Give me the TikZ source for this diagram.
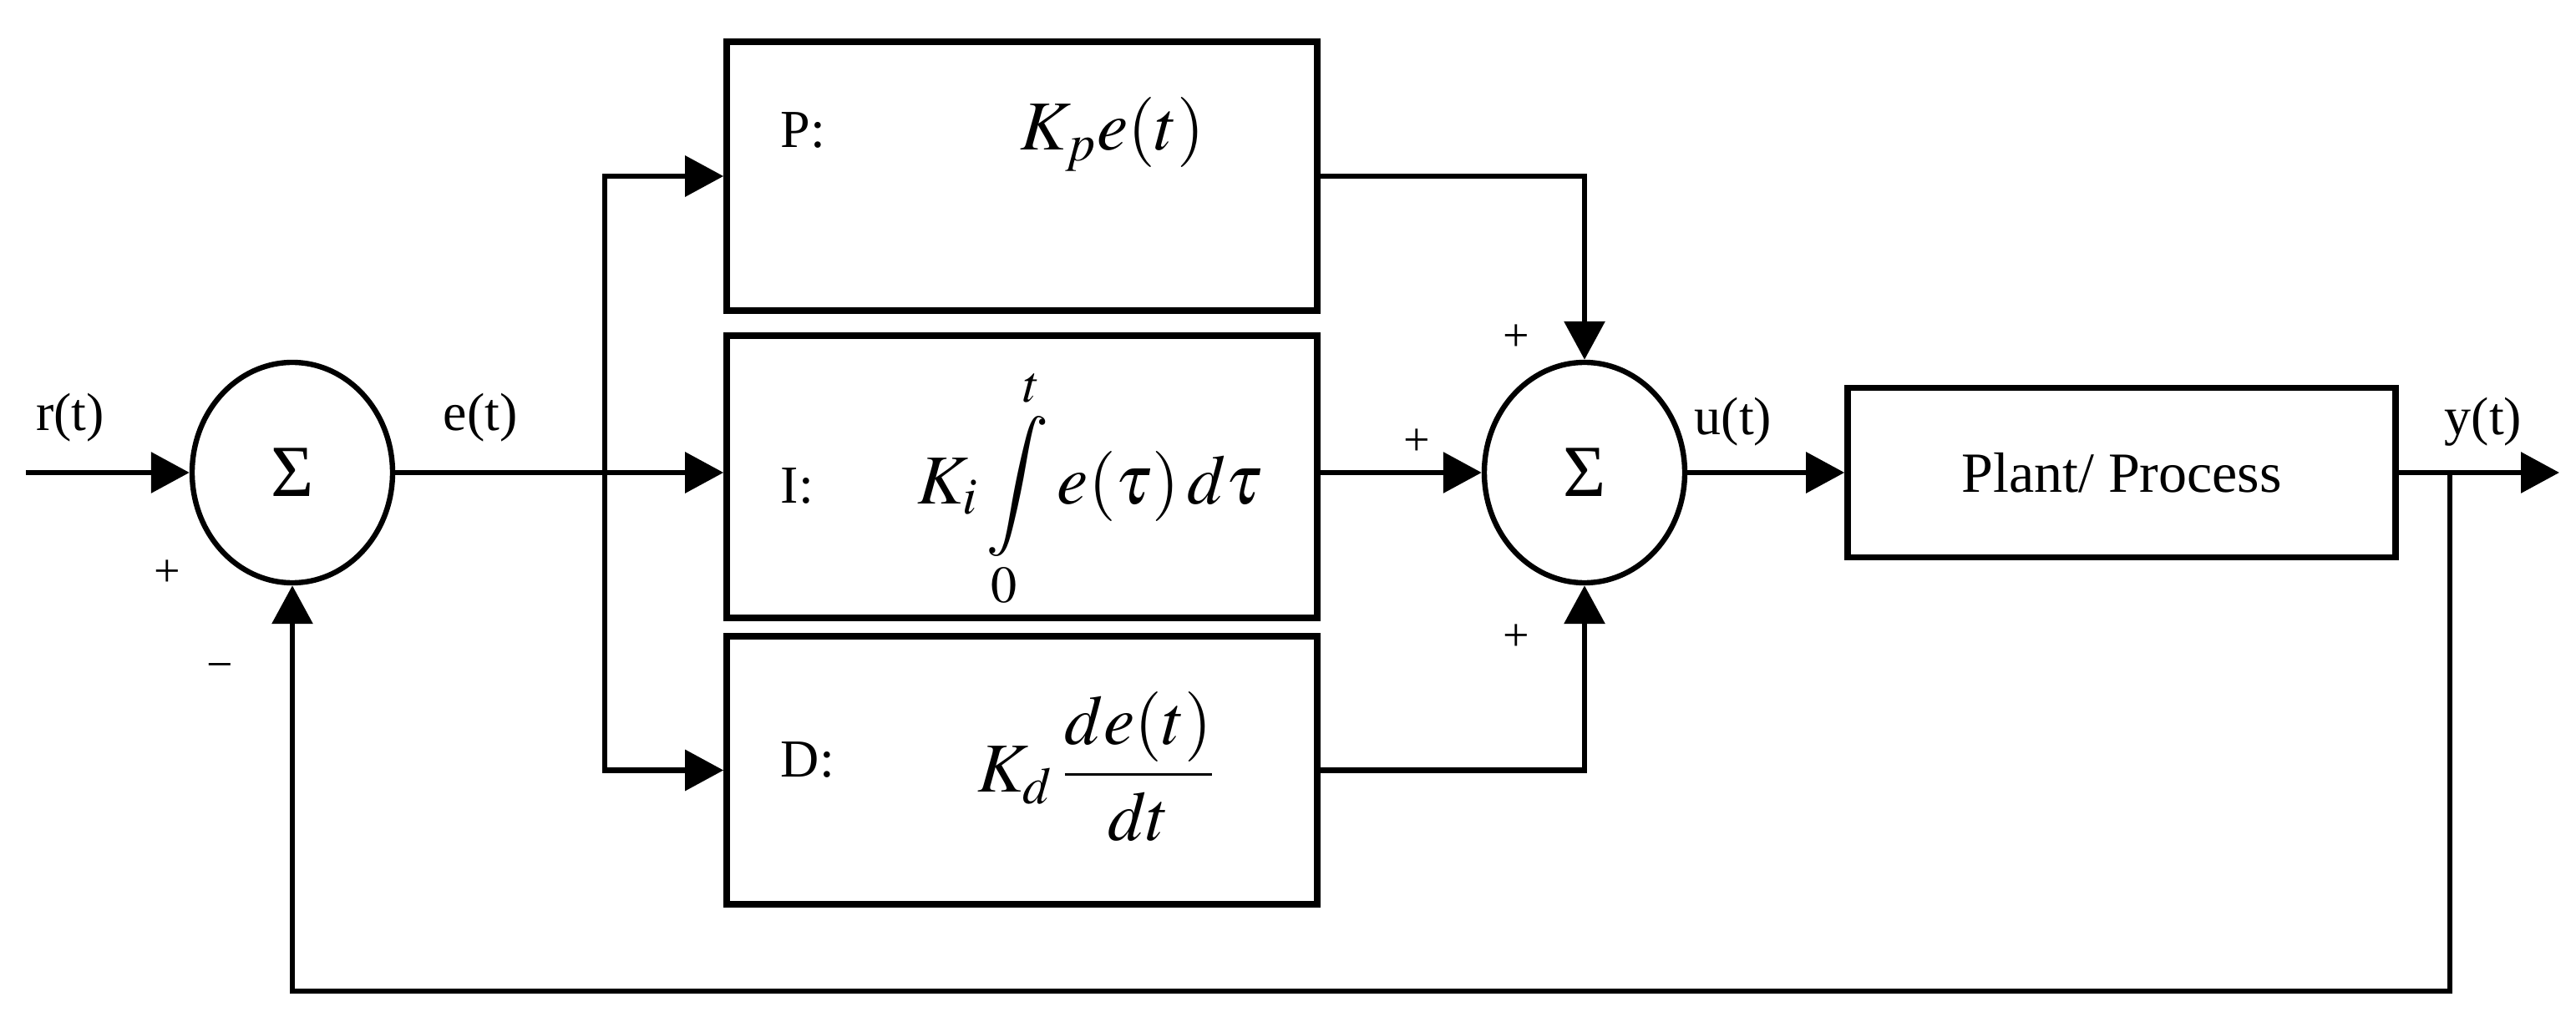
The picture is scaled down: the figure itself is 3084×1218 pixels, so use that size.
\documentclass[tikz,border=0pt]{standalone}
\usepackage{mathptmx}
\usepackage{fontspec}
\setmainfont{Liberation Serif}
\usetikzlibrary{arrows.meta,shapes.geometric}
\begin{document}
\begin{tikzpicture}[x=0.25pt,y=-0.25pt,
  line/.style={line width=1.6pt},
  arr/.style={line width=1.6pt,-{Triangle[length=11.5pt,width=12pt]}},
  blk/.style={draw,line width=1.9pt,minimum width=176.75pt,inner sep=0},
  sumnode/.style={draw,ellipse,line width=1.6pt,minimum width=60pt,minimum height=66pt,inner sep=0,font=\fontsize{22}{26}\selectfont},
  lbl/.style={font=\fontsize{16}{19}\selectfont,inner sep=0},
  sgn/.style={font=\fontsize{14}{16}\selectfont,inner sep=0},
  fml/.style={font=\fontsize{21}{25}\selectfont,inner sep=0}]
\useasboundingbox (0,0) rectangle (3084,1218);
% blocks
\node[sumnode] (s1) at (350,566) {Σ};
\node[blk,minimum height=80.5pt] (P) at (1223.5,211) {};
\node[blk,minimum height=84.5pt] (I) at (1223.5,571) {};
\node[blk,minimum height=80.25pt] (D) at (1223.5,922.5) {};
\node[sumnode] (s2) at (1897,566) {Σ};
\node[blk,font=\fontsize{17}{20}\selectfont,minimum width=164pt,minimum height=50.75pt] (plant) at (2540,566) {Plant/ Process};
% coordinates
\coordinate (rin) at (31,566);
\coordinate (br) at (724,566);
\coordinate (yj) at (2933,566);
\coordinate (yout) at (3064,566);
\coordinate (fb) at (2933,1187);
% connectors
\draw[arr] (rin) -- (s1.west);
\draw[line] (s1.east) -- (br);
\draw[arr] (br) -- (I.west |- br);
\draw[arr] (br) |- (P.west);
\draw[arr] (br) |- (D.west);
\draw[arr] (P.east) -| (s2.north);
\draw[arr] (I.east |- s2) -- (s2.west);
\draw[arr] (D.east) -| (s2.south);
\draw[arr] (s2.east) -- (plant.west |- s2);
\draw[arr] (plant.east |- s2) -- (yout);
\draw[arr] (yj) -- (fb) -| (s1.south);
% labels
\node[lbl] (rl) at (84,500) {r(t)};
\node[lbl] (el) at (575,500) {e(t)};
\node[lbl] (ul) at (2075,505) {u(t)};
\node[lbl] (yl) at (2973,505) {y(t)};
\node[sgn] (p1) at (200,687) {+};
\node[sgn] (m1) at (263,805) {−};
\node[sgn] (p2) at (1815,405) {+};
\node[sgn] (p3) at (1696,530) {+};
\node[sgn] (p4) at (1815,764) {+};
% block contents
\node[lbl,anchor=base west] (Pl) at (934,177) {P:};
\node[fml,anchor=base] (Pf) at (1332,180) {$K_p e(t)$};
\node[lbl,anchor=base west] (Il) at (934,602) {I:};
\node[fml,anchor=base] (If) at (1305,603) {$K_i\displaystyle\int\limits_0^t e(\tau)\,d\tau$};
\node[lbl,anchor=base west] (Dl) at (934,930) {D:};
\node[fml] (Df) at (1313,918) {$K_d\,\displaystyle\frac{de(t)}{dt}$};
\end{tikzpicture}
\end{document}
